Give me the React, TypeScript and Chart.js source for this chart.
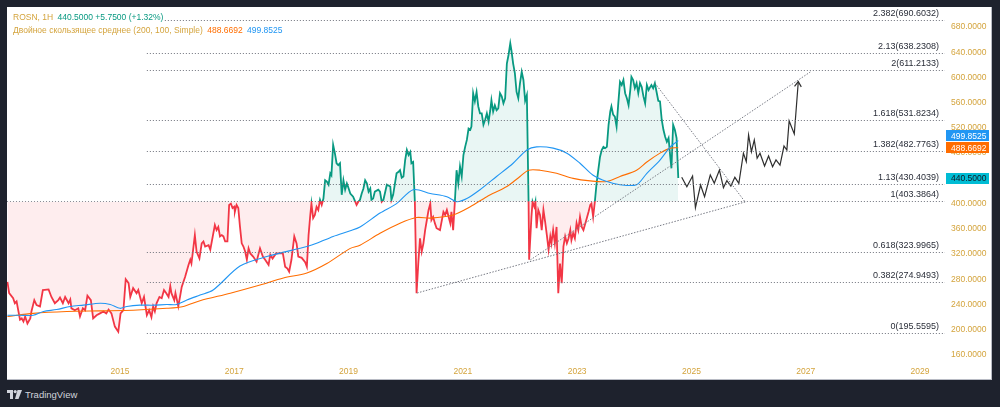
import { useEffect, useRef } from 'react';
import { Chart, registerables } from 'chart.js';

Chart.register(...registerables);

// ---------- data (decimal year, price) ----------
const priceSeries: [number, number][] = [
  [2013.03, 276], [2013.06, 258], [2013.13, 250], [2013.16, 242], [2013.19, 245], [2013.25, 216], [2013.28, 218], [2013.31, 213], [2013.34, 221], [2013.38, 210],
  [2013.43, 218], [2013.45, 229], [2013.50, 247], [2013.54, 239], [2013.60, 237], [2013.65, 263], [2013.75, 264], [2013.80, 252], [2013.86, 242], [2013.92, 247],
  [2013.95, 251], [2014.00, 242], [2014.04, 252], [2014.10, 242], [2014.13, 248], [2014.15, 234], [2014.21, 231], [2014.27, 234], [2014.30, 221], [2014.35, 234],
  [2014.39, 231], [2014.43, 254], [2014.49, 247], [2014.53, 218], [2014.59, 223], [2014.65, 226], [2014.71, 229], [2014.76, 226], [2014.80, 232], [2014.85, 226],
  [2014.91, 205], [2014.97, 197], [2015.01, 226], [2015.06, 231], [2015.10, 280], [2015.15, 274], [2015.18, 252], [2015.23, 266], [2015.29, 258], [2015.32, 263],
  [2015.38, 242], [2015.42, 252], [2015.47, 223], [2015.51, 231], [2015.55, 220], [2015.58, 237], [2015.61, 229], [2015.64, 242], [2015.69, 252], [2015.73, 250],
  [2015.77, 263], [2015.81, 258], [2015.85, 252], [2015.88, 269], [2015.90, 258], [2015.95, 247], [2015.97, 258], [2016.02, 237], [2016.05, 252], [2016.08, 268],
  [2016.14, 284], [2016.20, 303], [2016.23, 311], [2016.25, 305], [2016.28, 327], [2016.31, 350], [2016.34, 324], [2016.39, 313], [2016.43, 337], [2016.46, 340],
  [2016.49, 332], [2016.55, 334], [2016.58, 327], [2016.66, 366], [2016.69, 358], [2016.72, 363], [2016.75, 348], [2016.78, 350], [2016.81, 348], [2016.84, 340],
  [2016.88, 340], [2016.91, 398], [2016.94, 400], [2016.97, 393], [2017.00, 395], [2017.01, 387], [2017.04, 398], [2017.07, 393], [2017.10, 363], [2017.13, 337],
  [2017.16, 332], [2017.19, 324], [2017.22, 311], [2017.25, 329], [2017.28, 321], [2017.33, 316], [2017.39, 308], [2017.45, 329], [2017.50, 316], [2017.54, 311],
  [2017.60, 303], [2017.63, 319], [2017.67, 313], [2017.73, 321], [2017.79, 321], [2017.85, 321], [2017.89, 300], [2017.93, 297], [2017.96, 292], [2018.00, 311],
  [2018.05, 348], [2018.09, 337], [2018.12, 316], [2018.18, 314], [2018.24, 307], [2018.27, 300], [2018.30, 350], [2018.33, 382], [2018.35, 400], [2018.38, 377],
  [2018.41, 382], [2018.44, 395], [2018.47, 390], [2018.50, 406], [2018.53, 398], [2018.56, 408], [2018.59, 437], [2018.62, 435], [2018.65, 430], [2018.68, 448],
  [2018.70, 445], [2018.73, 493], [2018.76, 480], [2018.79, 464], [2018.82, 461], [2018.85, 464], [2018.88, 414], [2018.91, 437], [2018.94, 422], [2018.97, 432],
  [2018.99, 427], [2019.03, 416], [2019.08, 411], [2019.14, 398], [2019.17, 403], [2019.20, 406], [2019.23, 416], [2019.26, 424], [2019.29, 437], [2019.32, 432],
  [2019.35, 419], [2019.38, 424], [2019.40, 406], [2019.43, 408], [2019.46, 419], [2019.52, 422], [2019.55, 419], [2019.58, 403], [2019.61, 406], [2019.67, 430],
  [2019.73, 427], [2019.75, 406], [2019.78, 414], [2019.84, 448], [2019.87, 450], [2019.90, 453], [2019.93, 441], [2019.96, 443], [2019.99, 469], [2020.02, 485],
  [2020.05, 477], [2020.08, 482], [2020.10, 464], [2020.13, 466], [2020.16, 403], [2020.19, 258], [2020.22, 305], [2020.25, 345], [2020.28, 324], [2020.31, 337],
  [2020.34, 358], [2020.37, 374], [2020.40, 390], [2020.43, 400], [2020.45, 374], [2020.48, 379], [2020.51, 369], [2020.54, 361], [2020.60, 358], [2020.66, 387],
  [2020.69, 382], [2020.72, 390], [2020.78, 369], [2020.80, 387], [2020.83, 358], [2020.86, 403], [2020.89, 453], [2020.92, 432], [2020.95, 459], [2020.98, 443],
  [2021.01, 477], [2021.04, 490], [2021.07, 501], [2021.10, 519], [2021.13, 517], [2021.15, 522], [2021.18, 575], [2021.21, 562], [2021.24, 577], [2021.27, 554],
  [2021.30, 543], [2021.33, 543], [2021.36, 525], [2021.39, 533], [2021.42, 543], [2021.45, 530], [2021.48, 548], [2021.50, 564], [2021.53, 546], [2021.56, 556],
  [2021.59, 548], [2021.62, 551], [2021.65, 575], [2021.68, 570], [2021.71, 559], [2021.74, 567], [2021.77, 622], [2021.80, 636], [2021.83, 654], [2021.85, 643],
  [2021.88, 622], [2021.91, 607], [2021.94, 577], [2021.97, 567], [2022.00, 591], [2022.03, 609], [2022.06, 596], [2022.09, 563], [2022.12, 572], [2022.15, 403],
  [2022.16, 311], [2022.20, 379], [2022.22, 403], [2022.25, 395], [2022.27, 403], [2022.29, 361], [2022.32, 390], [2022.35, 382], [2022.38, 358], [2022.41, 390],
  [2022.44, 371], [2022.47, 350], [2022.50, 327], [2022.53, 348], [2022.55, 337], [2022.58, 358], [2022.61, 337], [2022.64, 363], [2022.67, 258], [2022.70, 305],
  [2022.73, 274], [2022.76, 332], [2022.79, 348], [2022.82, 337], [2022.85, 345], [2022.88, 358], [2022.90, 342], [2022.93, 353], [2022.96, 345], [2022.99, 369],
  [2023.02, 358], [2023.05, 379], [2023.08, 363], [2023.11, 358], [2023.17, 377], [2023.20, 387], [2023.23, 398], [2023.25, 400], [2023.28, 379], [2023.31, 403],
  [2023.34, 432], [2023.37, 453], [2023.40, 474], [2023.43, 485], [2023.46, 490], [2023.49, 488], [2023.52, 490], [2023.55, 525], [2023.58, 546], [2023.60, 554],
  [2023.63, 541], [2023.66, 538], [2023.69, 522], [2023.72, 559], [2023.75, 593], [2023.78, 588], [2023.81, 596], [2023.84, 575], [2023.87, 567], [2023.90, 556],
  [2023.93, 580], [2023.95, 601], [2023.98, 596], [2024.01, 583], [2024.04, 591], [2024.07, 575], [2024.10, 591], [2024.13, 585], [2024.16, 570], [2024.19, 559],
  [2024.22, 588], [2024.25, 580], [2024.28, 585], [2024.30, 588], [2024.33, 583], [2024.36, 591], [2024.39, 577], [2024.42, 563], [2024.45, 562], [2024.48, 533],
  [2024.51, 517], [2024.54, 506], [2024.57, 498], [2024.60, 504], [2024.63, 474], [2024.65, 456], [2024.68, 525], [2024.71, 517], [2024.74, 504], [2024.77, 440.5],
];

// SMA 100 (blue)
const smaFast: [number, number][] = [
  [2013.03, 223], [2013.25, 223], [2013.48, 223], [2013.66, 229], [2013.89, 232], [2014.13, 237], [2014.36, 239], [2014.65, 242], [2014.83, 240], [2015.00, 234],
  [2015.12, 237], [2015.35, 239], [2015.58, 239], [2015.82, 240], [2015.99, 240], [2016.17, 247], [2016.40, 255], [2016.63, 263], [2017.10, 301], [2017.57, 316],
  [2018.27, 332], [2018.44, 337], [2018.73, 348], [2019.03, 357], [2019.20, 363], [2019.55, 385], [2019.84, 400], [2020.13, 422], [2020.43, 416], [2020.72, 411],
  [2020.89, 403], [2021.07, 408], [2021.30, 422], [2021.59, 443], [2021.88, 464], [2022.12, 485], [2022.29, 490], [2022.58, 488], [2022.82, 480], [2023.05, 464],
  [2023.28, 445], [2023.52, 435], [2023.75, 430], [2024.04, 430], [2024.22, 448], [2024.45, 469], [2024.63, 490], [2024.77, 499.8525],
];

// SMA 200 (orange)
const smaSlow: [number, number][] = [
  [2013.03, 221], [2013.48, 226], [2014.07, 229], [2014.65, 230], [2015.23, 231], [2015.82, 234], [2016.11, 237], [2016.40, 246], [2016.93, 258], [2017.45, 271],
  [2017.86, 282], [2018.27, 290], [2018.62, 305], [2019.03, 329], [2019.20, 334], [2019.55, 353], [2019.90, 369], [2020.19, 378], [2020.43, 377], [2020.83, 382],
  [2021.13, 395], [2021.42, 411], [2021.77, 427], [2022.00, 443], [2022.15, 453], [2022.35, 453], [2022.64, 448], [2022.93, 440], [2023.23, 436], [2023.52, 435],
  [2023.75, 443], [2024.04, 453], [2024.22, 466], [2024.45, 480], [2024.63, 488], [2024.77, 488.6692],
];

// hand-drawn projection path
const projectionPath: [number, number][] = [
  [2024.83, 441.7], [2024.92, 426.8], [2025.02, 443.8], [2025.07, 393.5], [2025.16, 429.5], [2025.23, 411.0], [2025.33, 445.4], [2025.40, 432.2], [2025.49, 453.3],
  [2025.56, 425.2], [2025.62, 436.3], [2025.69, 427.9], [2025.76, 441.7], [2025.83, 432.2], [2025.91, 479.8], [2025.96, 466.5], [2026.00, 508.8], [2026.05, 482.3],
  [2026.10, 500.9], [2026.15, 471.8], [2026.20, 479.8], [2026.28, 459.6], [2026.35, 475.5], [2026.42, 458.5], [2026.48, 469.2], [2026.55, 461.2], [2026.62, 491.3],
  [2026.67, 485.0], [2026.71, 531.0], [2026.80, 510.4], [2026.87, 593.3],
];

// trend lines
const supportLine: [number, number][] = [[2020.20, 258.3], [2025.94, 402.6]];
const risingLine: [number, number][] = [[2022.18, 310.6], [2027.08, 608.7]];
const fallingLine: [number, number][] = [[2024.36, 591.2], [2025.94, 402.6]];

// Fibonacci extension
const fibRatios = [0, 0.382, 0.618, 1, 1.13, 1.382, 1.618, 2, 2.13, 2.382];
const fibPrices = [195.5595, 274.9493, 323.9965, 403.3864, 430.4039, 482.7763, 531.8234, 611.2133, 638.2308, 690.6032];
const fibStartYear = 2015.47;

const baselinePrice = 403.3864;
const lastPrice = 440.5;
const lastChange = '+5.7500 (+1.32%)';
const smaSlowLast = 488.6692;
const smaFastLast = 499.8525;

const yearTicks = [2015, 2017, 2019, 2021, 2023, 2025, 2027, 2029];
const priceTicks = [160, 200, 240, 280, 320, 360, 400, 440, 480, 520, 560, 600, 640, 680];

// ---------- styles ----------
const X_MIN = 2013.0225;
const X_MAX = 2029.4375;
const Y_MIN = 147.3;
const Y_MAX = 711.7;

const GOLD = '#d4a43d';
const GREEN = '#089981';
const RED = '#f23645';
const GREEN_FILL = 'rgba(8,153,129,0.09)';
const RED_FILL = 'rgba(242,54,69,0.09)';
const BLUE = '#2196f3';
const ORANGE = '#ff6d00';
const CYAN = '#00bcd4';
const FONT = '"Liberation Sans", Arial, sans-serif';
const DOT = '#6f727c';

const toXY = (arr: [number, number][]) => arr.map(([x, y]) => ({ x, y }));

const overlayPlugin = {
  id: 'overlay',
  beforeDatasetsDraw(chart: any) {
    const { ctx, chartArea, scales } = chart;
    const y = Math.round(scales.y.getPixelForValue(baselinePrice)) + 0.5;
    const xs = scales.x.getPixelForValue(fibStartYear);
    ctx.save();
    ctx.strokeStyle = '#8d9099';
    ctx.lineWidth = 1;
    ctx.setLineDash([1, 2]);
    ctx.beginPath();
    ctx.moveTo(chartArea.left, y);
    ctx.lineTo(xs, y);
    ctx.stroke();
    ctx.restore();
  },
  afterDatasetsDraw(chart: any) {
    const { ctx, chartArea, scales } = chart;
    const xs = scales.x.getPixelForValue(fibStartYear);
    ctx.save();
    ctx.font = `9px ${FONT}`;
    ctx.textAlign = 'right';
    ctx.textBaseline = 'bottom';
    fibPrices.forEach((p, i) => {
      const y = Math.round(scales.y.getPixelForValue(p)) + 0.5;
      ctx.strokeStyle = DOT;
      ctx.lineWidth = 1;
      ctx.setLineDash([1, 2]);
      ctx.beginPath();
      ctx.moveTo(xs, y);
      ctx.lineTo(chartArea.right, y);
      ctx.stroke();
      ctx.fillStyle = '#2a2e39';
      ctx.fillText(`${fibRatios[i]}(${p.toFixed(4)})`, chartArea.right - 6, y - 2.5);
    });
    ctx.setLineDash([]);
    // arrow head on projection path
    const n = projectionPath.length;
    const [x1, y1] = projectionPath[n - 2];
    const [x2, y2] = projectionPath[n - 1];
    const px1 = scales.x.getPixelForValue(x1), py1 = scales.y.getPixelForValue(y1);
    const px2 = scales.x.getPixelForValue(x2), py2 = scales.y.getPixelForValue(y2);
    const ang = Math.atan2(py2 - py1, px2 - px1);
    const len = 6;
    ctx.strokeStyle = '#2f2f2f';
    ctx.lineWidth = 1.2;
    ctx.beginPath();
    ctx.moveTo(px2 - len * Math.cos(ang - 0.6), py2 - len * Math.sin(ang - 0.6));
    ctx.lineTo(px2, py2);
    ctx.lineTo(px2 - len * Math.cos(ang + 0.6), py2 - len * Math.sin(ang + 0.6));
    ctx.stroke();
    ctx.restore();
  },
  afterDraw(chart: any) {
    const { ctx, chartArea, scales } = chart;
    const h = 11;
    const x0 = chartArea.right + 1;
    const w = 43;
    const yOrange = scales.y.getPixelForValue(smaSlowLast);
    const yBlue = Math.min(scales.y.getPixelForValue(smaFastLast), yOrange - 12);
    const yLast = scales.y.getPixelForValue(lastPrice);
    const boxes = [
      { y: yBlue, bg: BLUE, fg: '#ffffff', text: smaFastLast.toFixed(4) },
      { y: yOrange, bg: ORANGE, fg: '#ffffff', text: smaSlowLast.toFixed(4) },
      { y: yLast, bg: CYAN, fg: '#131722', text: lastPrice.toFixed(4) },
    ];
    ctx.save();
    ctx.font = `8.5px ${FONT}`;
    ctx.textAlign = 'left';
    ctx.textBaseline = 'middle';
    boxes.forEach((b) => {
      ctx.fillStyle = b.bg;
      ctx.fillRect(x0, Math.round(b.y - h / 2), w, h);
      ctx.fillStyle = b.fg;
      ctx.fillText(b.text, chartArea.right + 6, Math.round(b.y) + 0.5);
    });
    ctx.restore();
  },
};

export default function App() {
  const ref = useRef<HTMLCanvasElement | null>(null);

  useEffect(() => {
    if (!ref.current) return;
    const priceBorder = (c: any) => {
      const chart = c.chart;
      const { ctx, chartArea, scales } = chart;
      if (!chartArea || !scales || !scales.y) return GREEN;
      const yb = scales.y.getPixelForValue(baselinePrice);
      const g = ctx.createLinearGradient(0, chartArea.top, 0, chartArea.bottom);
      const s = Math.min(1, Math.max(0, (yb - chartArea.top) / (chartArea.bottom - chartArea.top)));
      g.addColorStop(0, GREEN);
      g.addColorStop(s, GREEN);
      g.addColorStop(s, RED);
      g.addColorStop(1, RED);
      return g;
    };
    const thinDots = (data: [number, number][]) => ({
      data: toXY(data),
      borderColor: '#777a84',
      borderWidth: 1,
      borderDash: [1.5, 1.5],
      pointRadius: 0,
      fill: false,
      order: 1,
    });
    const chart = new Chart(ref.current, {
      type: 'line',
      data: {
        datasets: [
          thinDots(supportLine),
          thinDots(risingLine),
          thinDots(fallingLine),
          {
            data: toXY(projectionPath),
            borderColor: '#2f2f2f',
            borderWidth: 1.2,
            pointRadius: 0,
            fill: false,
            order: 1,
          },
          {
            data: toXY(smaFast),
            borderColor: BLUE,
            borderWidth: 1.1,
            pointRadius: 0,
            fill: false,
            tension: 0.3,
            order: 2,
          },
          {
            data: toXY(smaSlow),
            borderColor: ORANGE,
            borderWidth: 1.1,
            pointRadius: 0,
            fill: false,
            tension: 0.3,
            order: 2,
          },
          {
            data: toXY(priceSeries),
            borderColor: priceBorder,
            borderWidth: 1.8,
            pointRadius: 0,
            tension: 0,
            fill: { target: { value: baselinePrice }, above: GREEN_FILL, below: RED_FILL },
            order: 3,
          },
        ] as any,
      },
      options: {
        responsive: false,
        animation: false,
        devicePixelRatio: 1,
        events: [],
        layout: { padding: 0 },
        plugins: { legend: { display: false }, tooltip: { enabled: false } },
        scales: {
          x: {
            type: 'linear',
            min: X_MIN,
            max: X_MAX,
            grid: { display: false, drawTicks: false },
            border: { display: false },
            afterBuildTicks: (s: any) => {
              s.ticks = yearTicks.map((v) => ({ value: v }));
            },
            afterFit: (s: any) => {
              s.height = 17;
              s.paddingLeft = 0;
              s.paddingRight = 0;
              s.paddingTop = 0;
              s.paddingBottom = 0;
            },
            ticks: {
              color: GOLD,
              font: { family: FONT, size: 8.5 },
              padding: 4,
              maxRotation: 0,
              autoSkip: false,
              callback: (v: any) => String(v),
            },
          },
          y: {
            type: 'linear',
            position: 'right',
            min: Y_MIN,
            max: Y_MAX,
            grid: { display: false, drawTicks: false },
            border: { display: false },
            afterBuildTicks: (s: any) => {
              s.ticks = priceTicks.map((v) => ({ value: v }));
            },
            afterFit: (s: any) => {
              s.width = 47;
              s.paddingLeft = 0;
              s.paddingRight = 0;
              s.paddingTop = 0;
              s.paddingBottom = 0;
            },
            ticks: {
              color: GOLD,
              font: { family: FONT, size: 8.5 },
              padding: 6,
              autoSkip: false,
              callback: (v: any) => Number(v).toFixed(4),
            },
          },
        },
      } as any,
      plugins: [overlayPlugin as any],
    });
    return () => chart.destroy();
  }, []);

  const legendSpan = { background: '#ffffff', padding: '0 1px' } as const;

  return (
    <div style={{ position: 'fixed', left: 0, top: 0, width: 1000, height: 407, background: '#1e222d', overflow: 'hidden', fontFamily: FONT }}>
      <div style={{ position: 'absolute', left: 7, top: 7, width: 985, height: 373, background: '#ffffff', boxShadow: 'inset -1px -1px 0 #b8bbc4' }}>
        <canvas ref={ref} width={985} height={373} style={{ position: 'absolute', left: 0, top: 0, width: 985, height: 373 }} />
        <div style={{ position: 'absolute', left: 5, top: 4.5, fontSize: 8.5, lineHeight: '11px', whiteSpace: 'nowrap' }}>
          <span style={{ ...legendSpan, color: GOLD }}>ROSN, 1H</span>
          <span style={{ ...legendSpan, color: GREEN }}> {lastPrice.toFixed(4)} {lastChange}</span>
        </div>
        <div style={{ position: 'absolute', left: 5, top: 17.5, fontSize: 8.5, lineHeight: '11px', whiteSpace: 'nowrap' }}>
          <span style={{ ...legendSpan, color: GOLD }}>Двойное скользящее среднее (200, 100, Simple)</span>
          <span style={{ ...legendSpan, color: ORANGE }}> {smaSlowLast.toFixed(4)}</span>
          <span style={{ ...legendSpan, color: BLUE }}> {smaFastLast.toFixed(4)}</span>
        </div>
      </div>
      <div style={{ position: 'absolute', left: 7, top: 389, display: 'flex', alignItems: 'center', gap: 3 }}>
        <svg width={15} height={9} viewBox="0 0 15 9">
          <rect x={0} y={0} width={6} height={3} fill="#d1d4dc" />
          <rect x={3} y={0} width={3} height={9} fill="#d1d4dc" />
          <circle cx={8.2} cy={1.6} r={1.6} fill="#d1d4dc" />
          <polygon points="10.5,0 15,0 11.5,9 8,9" fill="#d1d4dc" />
        </svg>
        <span style={{ color: '#d1d4dc', fontSize: 9.5, lineHeight: '11px' }}>TradingView</span>
      </div>
    </div>
  );
}
